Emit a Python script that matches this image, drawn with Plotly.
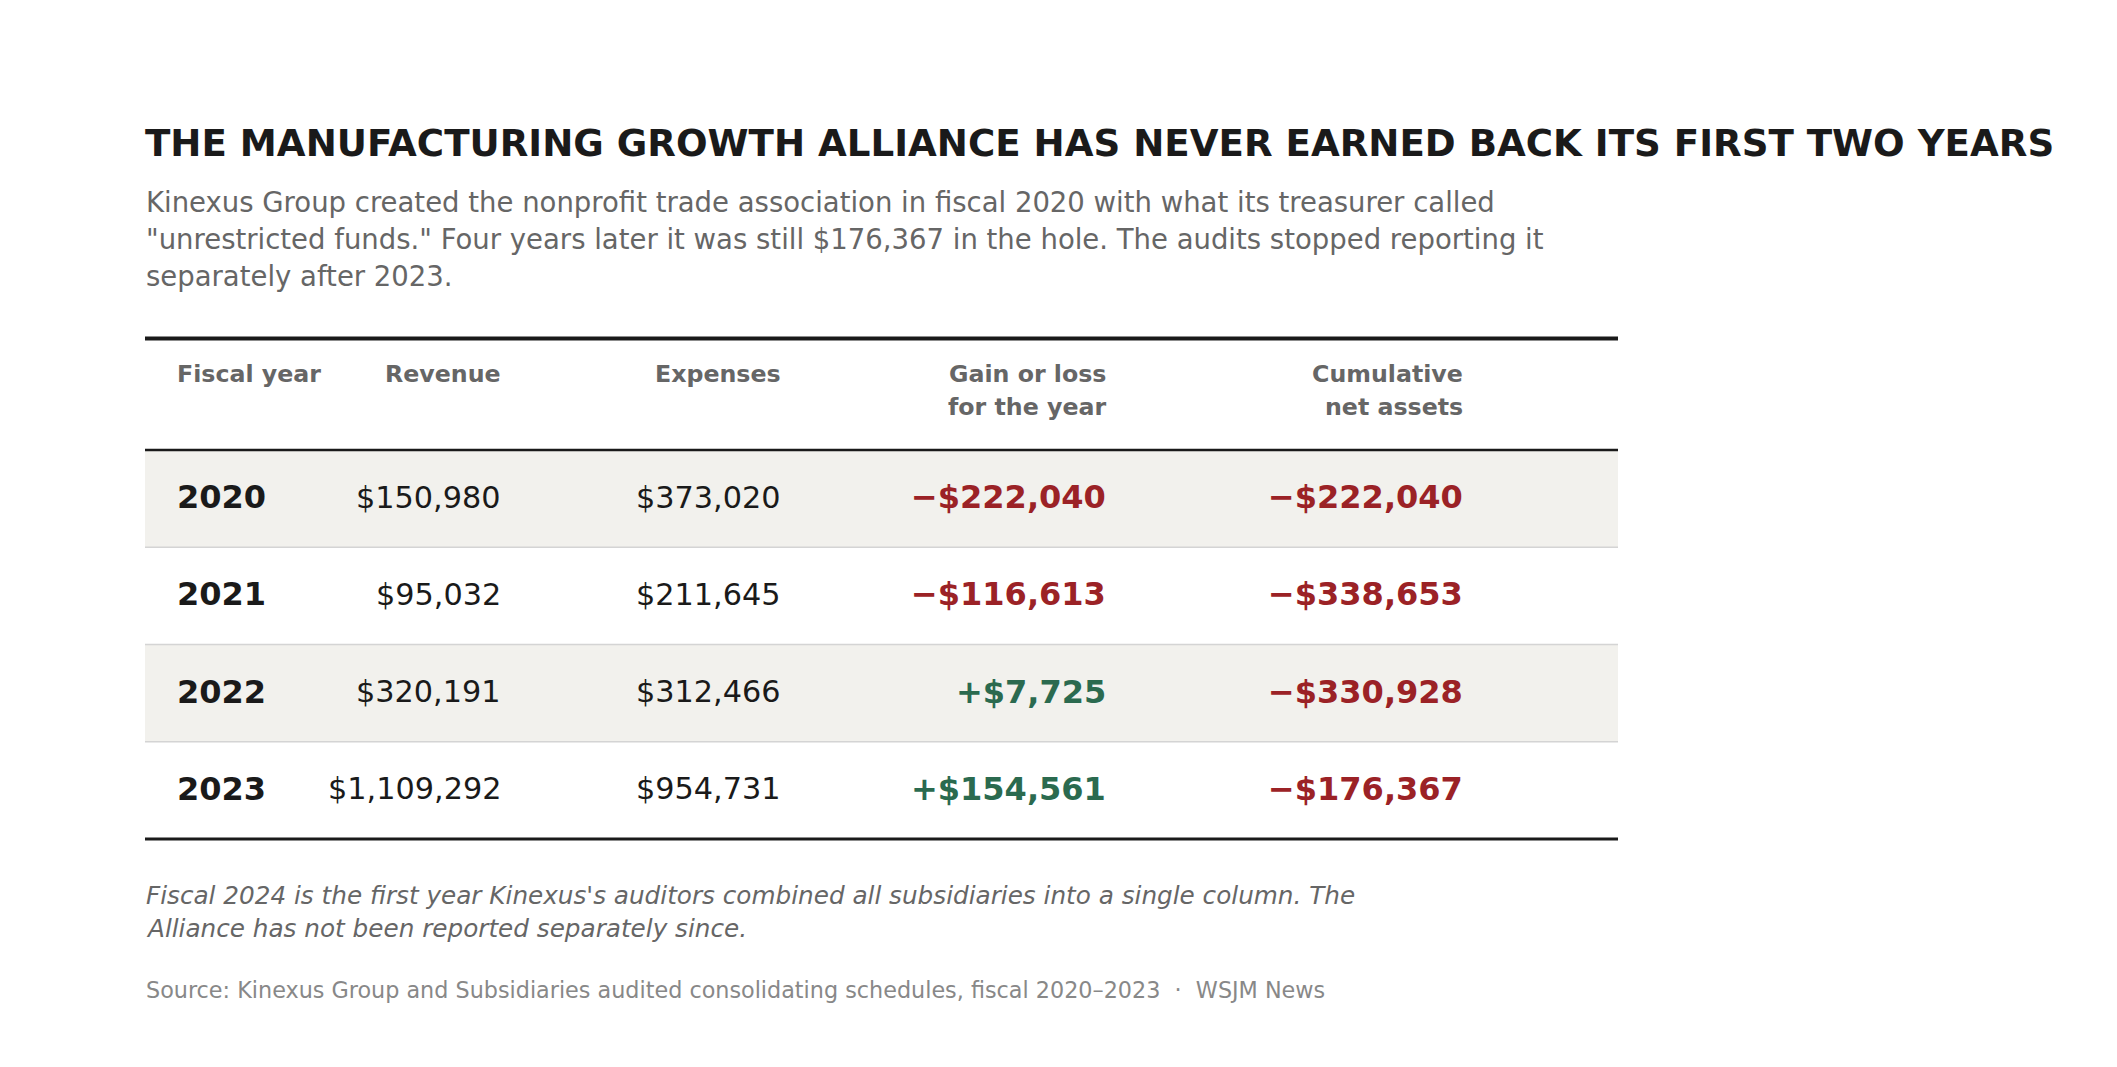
import plotly.graph_objects as go

W, H = 2117, 1067
PAD = 8  # default body margin of the html page

years = [2020, 2021, 2022, 2023]
revenue = [150980, 95032, 320191, 1109292]
expenses = [373020, 211645, 312466, 954731]
gain = [-222040, -116613, 7725, 154561]
cumulative = [-222040, -338653, -330928, -176367]

headers = [["Fiscal year"], ["Revenue"], ["Expenses"],
           ["Gain or loss", "for the year"], ["Cumulative", "net assets"]]

title = "THE MANUFACTURING GROWTH ALLIANCE HAS NEVER EARNED BACK ITS FIRST TWO YEARS"
subtitle = ["Kinexus Group created the nonprofit trade association in fiscal 2020 with what its treasurer called",
            "\"unrestricted funds.\" Four years later it was still $176,367 in the hole. The audits stopped reporting it",
            "separately after 2023."]
footnote = ["Fiscal 2024 is the first year Kinexus's auditors combined all subsidiaries into a single column. The",
            "Alliance has not been reported separately since."]
source = "Source: Kinexus Group and Subsidiaries audited consolidating schedules, fiscal 2020\u20132023  \u00b7  WSJM News"

FONT = "DejaVu Sans"
DARK = "#1a1a1a"
GREY = "#666666"
RED = "#9b2226"
GREEN = "#2b6a4f"
BAND = "#f2f1ed"

left, right = 145, 1618
top_rule, head_rule, bottom_rule = 338.5, 450, 839
row_h = (bottom_rule - head_rule) / len(years)
col_x = [175, 503, 782.5, 1108, 1464.5]


def money(v, signed=False):
    s = "${:,}".format(abs(v))
    if not signed:
        return s
    return ("\u2212" if v < 0 else "+") + s


fig = go.Figure()
shapes = []
ann = []

# shaded bands and row dividers
for i in range(len(years)):
    y0 = head_rule + i * row_h
    y1 = y0 + row_h
    if i % 2 == 0:
        shapes.append(dict(type="rect", x0=left, x1=right, y0=y0, y1=y1,
                           fillcolor=BAND, line_width=0, layer="below"))
    if i < len(years) - 1:
        shapes.append(dict(type="line", x0=left, x1=right, y0=y1, y1=y1,
                           line=dict(color="#d4d4d4", width=1.5)))

shapes.append(dict(type="line", x0=left, x1=right, y0=top_rule, y1=top_rule,
                   line=dict(color=DARK, width=4)))
shapes.append(dict(type="line", x0=left, x1=right, y0=head_rule, y1=head_rule,
                   line=dict(color=DARK, width=2.5)))
shapes.append(dict(type="line", x0=left, x1=right, y0=bottom_rule, y1=bottom_rule,
                   line=dict(color=DARK, width=3)))


def text(x, y, s, size, color, anchor="left", weight="normal", style="normal"):
    ann.append(dict(x=x, y=y, xref="x", yref="y", text=s, showarrow=False,
                    xanchor=anchor, yanchor="middle", align=anchor,
                    font=dict(family=FONT, size=size, color=color, weight=weight, style=style)))


text(left - 2, 143, title, 37.2, DARK, weight="bold")
for k, line in enumerate(subtitle):
    text(left - 1, 202 + k * 37, line, 27.5, GREY)

# header
for c, lines in enumerate(headers):
    anchor = "left" if c == 0 else "right"
    for k, line in enumerate(lines):
        text(col_x[c], 374 + k * 32.5, line, 23.7, GREY, anchor=anchor, weight="bold")

# body rows
for i, yr in enumerate(years):
    yc = head_rule + (i + 0.5) * row_h - 1.5
    text(col_x[0], yc, str(yr), 32, DARK, weight="bold")
    text(col_x[1], yc, money(revenue[i]), 30.3, DARK, anchor="right")
    text(col_x[2], yc, money(expenses[i]), 30.3, DARK, anchor="right")
    text(col_x[3], yc, money(gain[i], True), 32, RED if gain[i] < 0 else GREEN,
         anchor="right", weight="bold")
    text(col_x[4], yc, money(cumulative[i], True), 32, RED if cumulative[i] < 0 else GREEN,
         anchor="right", weight="bold")

for k, line in enumerate(footnote):
    text(left - 1, 895.5 + k * 33, line, 24.7, GREY, style="italic")
text(left - 1, 989.5, source, 22.3, "#888888")

fig.update_layout(
    width=W - 2 * PAD, height=H - 2 * PAD,
    margin=dict(l=0, r=0, t=0, b=0),
    paper_bgcolor="white", plot_bgcolor="white",
    xaxis=dict(range=[PAD, W - PAD], visible=False, fixedrange=True),
    yaxis=dict(range=[H - PAD, PAD], visible=False, fixedrange=True),
    shapes=shapes, annotations=ann, showlegend=False,
)

fig.write_html("out.html", config={"displayModeBar": False})
